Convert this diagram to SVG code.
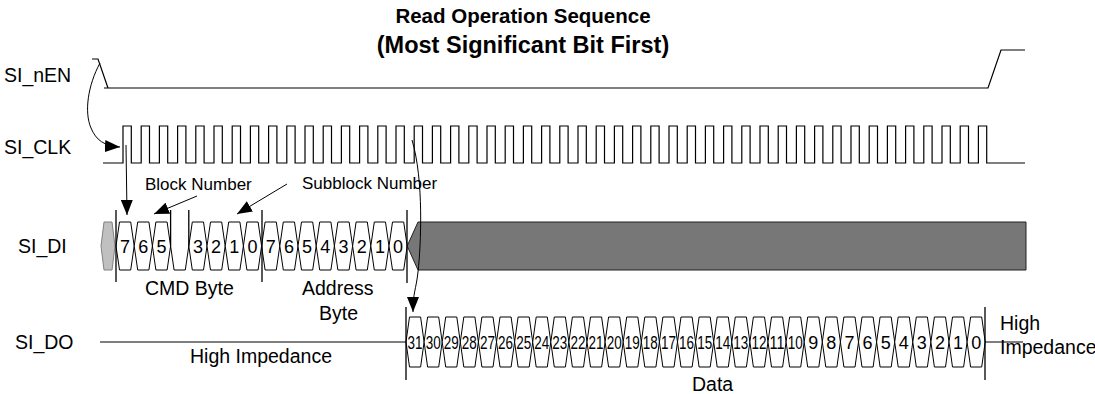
<svg xmlns="http://www.w3.org/2000/svg" width="1095" height="394" viewBox="0 0 1095 394">
<style>
text{font-family:"Liberation Sans",Arial,sans-serif;fill:#000}
.lbl{font-size:19.5px}
.ann{font-size:17px}
.dg{font-size:18px;text-anchor:middle}
.title{font-weight:bold;text-anchor:middle}
.w{fill:none;stroke:#000;stroke-width:1.2}
.cell{fill:#fff;stroke:#000;stroke-width:1}
.mk{stroke:#000;stroke-width:1.3}
.arr{fill:none;stroke:#000;stroke-width:1}
</style>
<defs>
<path id="cA" d="M0,24 L3.5,0 H14.7 L18.2,24 L14.7,48 H3.5 Z"/>
<path id="cB" d="M0,25 L3.5,0 H14.6 L18.1,25 L14.6,50 H3.5 Z"/>
<marker id="ah" markerWidth="15" markerHeight="12" refX="15" refY="6" orient="auto" markerUnits="userSpaceOnUse">
<path d="M0,0 L15,6 L0,12 Z" fill="#000"/>
</marker>
</defs>
<g id="title">
<text class="title" x="523" y="23" font-size="20.5">Read Operation Sequence</text>
<text class="title" x="523" y="53" font-size="23.5">(Most Significant Bit First)</text>
</g>
<g id="labels">
<text class="lbl" x="4" y="82">SI_nEN</text>
<text class="lbl" x="4" y="154">SI_CLK</text>
<text class="lbl" x="18" y="253">SI_DI</text>
<text class="lbl" x="15" y="349">SI_DO</text>
</g>
<g id="si_nen">
<path class="w" d="M92,59 H98 L108,88"/>
<path class="w" d="M104,88 H988 L1001,50 H1025"/>
</g>
<g id="si_clk">
<path class="w" stroke-width="1" d="M103,163 H123
v-37h8.3v37h9.9 v-37h8.3v37h9.9 v-37h8.3v37h9.9 v-37h8.3v37h9.9 v-37h8.3v37h9.9
v-37h8.3v37h9.9 v-37h8.3v37h9.9 v-37h8.3v37h9.9 v-37h8.3v37h9.9 v-37h8.3v37h9.9
v-37h8.3v37h9.9 v-37h8.3v37h9.9 v-37h8.3v37h9.9 v-37h8.3v37h9.9 v-37h8.3v37h9.9
v-37h8.3v37h9.9 v-37h8.3v37h9.9 v-37h8.3v37h9.9 v-37h8.3v37h9.9 v-37h8.3v37h9.9
v-37h8.3v37h9.9 v-37h8.3v37h9.9 v-37h8.3v37h9.9 v-37h8.3v37h9.9 v-37h8.3v37h9.9
v-37h8.3v37h9.9 v-37h8.3v37h9.9 v-37h8.3v37h9.9 v-37h8.3v37h9.9 v-37h8.3v37h9.9
v-37h8.3v37h9.9 v-37h8.3v37h9.9 v-37h8.3v37h9.9 v-37h8.3v37h9.9 v-37h8.3v37h9.9
v-37h8.3v37h9.9 v-37h8.3v37h9.9 v-37h8.3v37h9.9 v-37h8.3v37h9.9 v-37h8.3v37h9.9
v-37h8.3v37h9.9 v-37h8.3v37h9.9 v-37h8.3v37h9.9 v-37h8.3v37h9.9 v-37h8.3v37h9.9
v-37h8.3v37h9.9 v-37h8.3v37h9.9
v-37h8.3v37H1025"/>
</g>
<g id="si_di">
<path d="M101,246 L104,222 H112 L115,246 L112,270 H104 Z" fill="#c0c0c0" stroke="#808080"/>
<g transform="translate(0,222)">
<use href="#cA" class="cell" x="116"/>
<use href="#cA" class="cell" x="134.2"/>
<use href="#cA" class="cell" x="152.4"/>
<use href="#cA" class="cell" x="188.8"/>
<use href="#cA" class="cell" x="207"/>
<use href="#cA" class="cell" x="225.2"/>
<use href="#cA" class="cell" x="243.4"/>
<use href="#cA" class="cell" x="261.6"/>
<use href="#cA" class="cell" x="279.8"/>
<use href="#cA" class="cell" x="298"/>
<use href="#cA" class="cell" x="316.2"/>
<use href="#cA" class="cell" x="334.4"/>
<use href="#cA" class="cell" x="352.6"/>
<use href="#cA" class="cell" x="370.8"/>
<use href="#cA" class="cell" x="389"/>
</g>
<path class="arr" d="M170.6,246 L174.1,270 H185.3 L188.8,246"/>
<path class="mk" d="M170.6,210 V246 M188.8,210 V246"/>
<path d="M407.2,246 L418,222 H1026 V270 H418 Z" fill="#777" stroke="#222" stroke-width="1"/>
<path class="mk" d="M116,210 V282 M262,210 V282 M407,210 V283"/>
<text class="dg" x="125.1" y="252.5">7</text>
<text class="dg" x="143.3" y="252.5">6</text>
<text class="dg" x="161.5" y="252.5">5</text>
<text class="dg" x="197.9" y="252.5">3</text>
<text class="dg" x="216.1" y="252.5">2</text>
<text class="dg" x="234.3" y="252.5">1</text>
<text class="dg" x="252.5" y="252.5">0</text>
<text class="dg" x="270.7" y="252.5">7</text>
<text class="dg" x="288.9" y="252.5">6</text>
<text class="dg" x="307.1" y="252.5">5</text>
<text class="dg" x="325.3" y="252.5">4</text>
<text class="dg" x="343.5" y="252.5">3</text>
<text class="dg" x="361.7" y="252.5">2</text>
<text class="dg" x="379.9" y="252.5">1</text>
<text class="dg" x="398.1" y="252.5">0</text>
<text class="lbl" x="145" y="295">CMD Byte</text>
<text class="lbl" x="302" y="295">Address</text>
<text class="lbl" x="319" y="320">Byte</text>
</g>
<g id="si_do">
<path class="w" stroke-width="1" d="M100,342 H406"/>
<g transform="translate(0,317)">
<use href="#cB" class="cell" x="406"/><use href="#cB" class="cell" x="424.1"/><use href="#cB" class="cell" x="442.2"/><use href="#cB" class="cell" x="460.3"/><use href="#cB" class="cell" x="478.4"/><use href="#cB" class="cell" x="496.5"/><use href="#cB" class="cell" x="514.6"/><use href="#cB" class="cell" x="532.7"/><use href="#cB" class="cell" x="550.8"/><use href="#cB" class="cell" x="568.9"/><use href="#cB" class="cell" x="587"/><use href="#cB" class="cell" x="605.1"/><use href="#cB" class="cell" x="623.2"/><use href="#cB" class="cell" x="641.3"/><use href="#cB" class="cell" x="659.4"/><use href="#cB" class="cell" x="677.5"/><use href="#cB" class="cell" x="695.6"/><use href="#cB" class="cell" x="713.7"/><use href="#cB" class="cell" x="731.8"/><use href="#cB" class="cell" x="749.9"/><use href="#cB" class="cell" x="768"/><use href="#cB" class="cell" x="786.1"/><use href="#cB" class="cell" x="804.2"/><use href="#cB" class="cell" x="822.3"/><use href="#cB" class="cell" x="840.4"/><use href="#cB" class="cell" x="858.5"/><use href="#cB" class="cell" x="876.6"/><use href="#cB" class="cell" x="894.7"/><use href="#cB" class="cell" x="912.8"/><use href="#cB" class="cell" x="930.9"/><use href="#cB" class="cell" x="949"/><use href="#cB" class="cell" x="967.1"/>
</g>
<path class="mk" d="M406,307 V380 M985,307 V380"/>
<path class="w" stroke-width="1" d="M985,342 H1023"/>
<g>
<text class="dg" x="415.05" y="349" textLength="15" lengthAdjust="spacingAndGlyphs">31</text>
<text class="dg" x="433.15" y="349" textLength="15" lengthAdjust="spacingAndGlyphs">30</text>
<text class="dg" x="451.25" y="349" textLength="15" lengthAdjust="spacingAndGlyphs">29</text>
<text class="dg" x="469.35" y="349" textLength="15" lengthAdjust="spacingAndGlyphs">28</text>
<text class="dg" x="487.45" y="349" textLength="15" lengthAdjust="spacingAndGlyphs">27</text>
<text class="dg" x="505.55" y="349" textLength="15" lengthAdjust="spacingAndGlyphs">26</text>
<text class="dg" x="523.65" y="349" textLength="15" lengthAdjust="spacingAndGlyphs">25</text>
<text class="dg" x="541.75" y="349" textLength="15" lengthAdjust="spacingAndGlyphs">24</text>
<text class="dg" x="559.85" y="349" textLength="15" lengthAdjust="spacingAndGlyphs">23</text>
<text class="dg" x="577.95" y="349" textLength="15" lengthAdjust="spacingAndGlyphs">22</text>
<text class="dg" x="596.05" y="349" textLength="15" lengthAdjust="spacingAndGlyphs">21</text>
<text class="dg" x="614.15" y="349" textLength="15" lengthAdjust="spacingAndGlyphs">20</text>
<text class="dg" x="632.25" y="349" textLength="15" lengthAdjust="spacingAndGlyphs">19</text>
<text class="dg" x="650.35" y="349" textLength="15" lengthAdjust="spacingAndGlyphs">18</text>
<text class="dg" x="668.45" y="349" textLength="15" lengthAdjust="spacingAndGlyphs">17</text>
<text class="dg" x="686.55" y="349" textLength="15" lengthAdjust="spacingAndGlyphs">16</text>
<text class="dg" x="704.65" y="349" textLength="15" lengthAdjust="spacingAndGlyphs">15</text>
<text class="dg" x="722.75" y="349" textLength="15" lengthAdjust="spacingAndGlyphs">14</text>
<text class="dg" x="740.85" y="349" textLength="15" lengthAdjust="spacingAndGlyphs">13</text>
<text class="dg" x="758.95" y="349" textLength="15" lengthAdjust="spacingAndGlyphs">12</text>
<text class="dg" x="777.05" y="349" textLength="15" lengthAdjust="spacingAndGlyphs">11</text>
<text class="dg" x="795.15" y="349" textLength="15" lengthAdjust="spacingAndGlyphs">10</text>
<text class="dg" x="813.25" y="349">9</text>
<text class="dg" x="831.35" y="349">8</text>
<text class="dg" x="849.45" y="349">7</text>
<text class="dg" x="867.55" y="349">6</text>
<text class="dg" x="885.65" y="349">5</text>
<text class="dg" x="903.75" y="349">4</text>
<text class="dg" x="921.85" y="349">3</text>
<text class="dg" x="939.95" y="349">2</text>
<text class="dg" x="958.05" y="349">1</text>
<text class="dg" x="976.15" y="349">0</text>
</g>
<text class="lbl" x="190" y="363">High Impedance</text>
<text class="lbl" x="692" y="391">Data</text>
<text class="lbl" x="1000" y="330">High</text>
<text class="lbl" x="1000" y="354">Impedance</text>
</g>
<g id="annotations">
<text class="ann" x="145" y="190">Block Number</text>
<text class="ann" x="302" y="189">Subblock Number</text>
</g>
<g id="connectors">
<path class="arr" d="M100,63 C88,85 84,112 91,128 C96,140 104,146 120,147" marker-end="url(#ah)"/>
<path class="arr" d="M126,145 L127,215" marker-end="url(#ah)"/>
<path class="arr" d="M197,196 L154,214" marker-end="url(#ah)"/>
<path class="arr" d="M287,184 L237,214" marker-end="url(#ah)"/>
<path class="arr" d="M412,140 C424,180 421,245 418,272 C416,290 413,292 413,312" marker-end="url(#ah)"/>
</g>
</svg>
